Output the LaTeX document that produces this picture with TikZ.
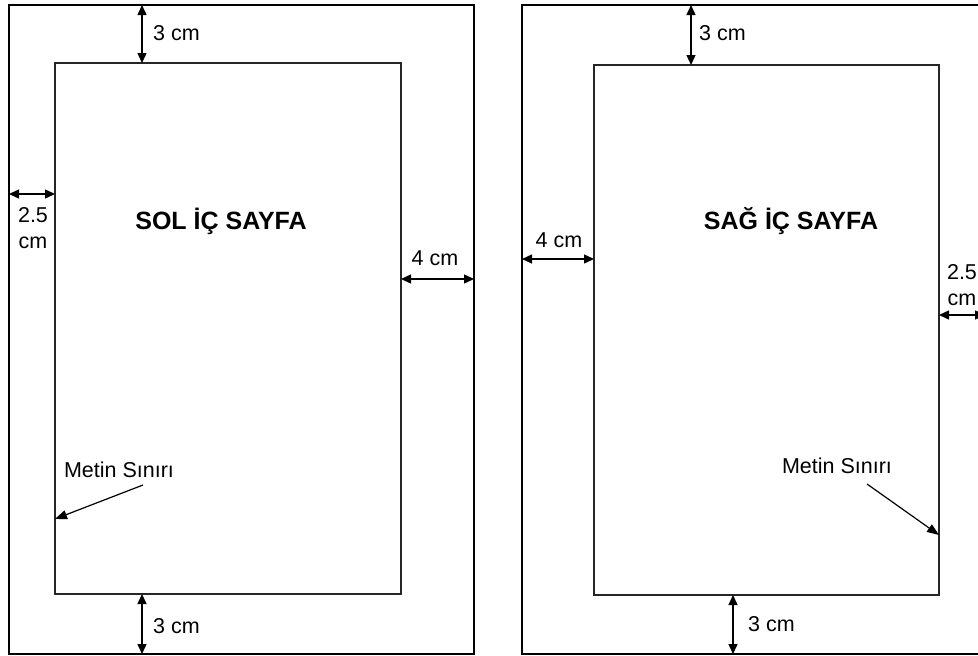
\documentclass[tikz,border=0pt]{standalone}
\usepackage{fontspec}
\setmainfont{Liberation Sans}
\usetikzlibrary{arrows.meta}

\tikzset{
  page/.style={shape=rectangle,draw=black,line width=2pt,inner sep=0pt,outer sep=0pt},
  textarea/.style={shape=rectangle,draw=black!85,line width=1.3pt,inner sep=0pt,outer sep=0pt},
  dimarrow/.style={{Triangle[length=10pt,width=9pt]}-{Triangle[length=10pt,width=9pt]},line width=1.4pt},
  notearrow/.style={-{Triangle[length=12pt,width=9pt]},line width=1.2pt},
  lbl/.style={font=\fontsize{21.5}{26}\selectfont,inner sep=0pt},
  title/.style={font=\fontsize{25}{30}\selectfont\bfseries,inner sep=0pt}
}

\begin{document}
\begin{tikzpicture}[x=1pt,y=-1pt]
            \useasboundingbox (0,0) rectangle (978,656);
            \clip (0,0) rectangle (978,656);

            % sol sayfa
            \node[page,minimum width=465pt,minimum height=649pt] (solpage) at (241.5,329.5) {};
            \node[textarea,minimum width=346pt,minimum height=531pt] (soltext) at (228,328.5) {};

            % sag sayfa
            \node[page,minimum width=478pt,minimum height=649pt] (sagpage) at (761,329.5) {};
            \node[textarea,minimum width=345pt,minimum height=530pt] (sagtext) at (766.5,330) {};

            \node[title] (soltitle) at (221,221) {SOL İÇ SAYFA};
            \node[title] (sagtitle) at (791,221) {SAĞ İÇ SAYFA};

            % olcu cizgileri
            \coordinate (solx) at (142,0);
            \coordinate (sagxtop) at (691,0);
            \coordinate (sagxbot) at (733,0);
            \coordinate (solyleft) at (0,194);
            \coordinate (solyright) at (0,279);
            \coordinate (sagyleft) at (0,259);
            \coordinate (sagyright) at (0,315);
            \coordinate (edge) at (985,315);

            \draw[dimarrow] (solpage.north -| solx) -- (soltext.north -| solx);
            \draw[dimarrow] (soltext.south -| solx) -- (solpage.south -| solx);
            \draw[dimarrow] (solpage.west |- solyleft) -- (soltext.west |- solyleft);
            \draw[dimarrow] (soltext.east |- solyright) -- (solpage.east |- solyright);

            \draw[dimarrow] (sagpage.north -| sagxtop) -- (sagtext.north -| sagxtop);
            \draw[dimarrow] (sagtext.south -| sagxbot) -- (sagpage.south -| sagxbot);
            \draw[dimarrow] (sagpage.west |- sagyleft) -- (sagtext.west |- sagyleft);
            \draw[dimarrow] (sagtext.east |- sagyright) -- (edge);

            % olcu yazilari
            \node[lbl,anchor=west] (soltop) at (153,33) {3 cm};
            \node[lbl,anchor=west] (solbot) at (153,626) {3 cm};
            \node[lbl,align=center] (solleft) at (33,228) {2.5\\cm};
            \node[lbl] (solright) at (435,258) {4 cm};

            \node[lbl,anchor=west] (sagtop) at (699,33) {3 cm};
            \node[lbl,anchor=west] (sagbot) at (748,624) {3 cm};
            \node[lbl] (sagleft) at (559,240) {4 cm};
            \node[lbl,align=center] (sagright) at (962,285) {2.5\\cm};

            % metin siniri
            \node[lbl] (solnote) at (119,470) {Metin Sınırı};
            \node[lbl] (sagnote) at (837,466) {Metin Sınırı};
            \coordinate (solnotestart) at (143,485);
            \coordinate (sagnotestart) at (867,484);
            \draw[notearrow] (solnotestart) -- (soltext.west |- 0,519);
            \draw[notearrow] (sagnotestart) -- (sagtext.east |- 0,535);
        \end{tikzpicture}
\end{document}
